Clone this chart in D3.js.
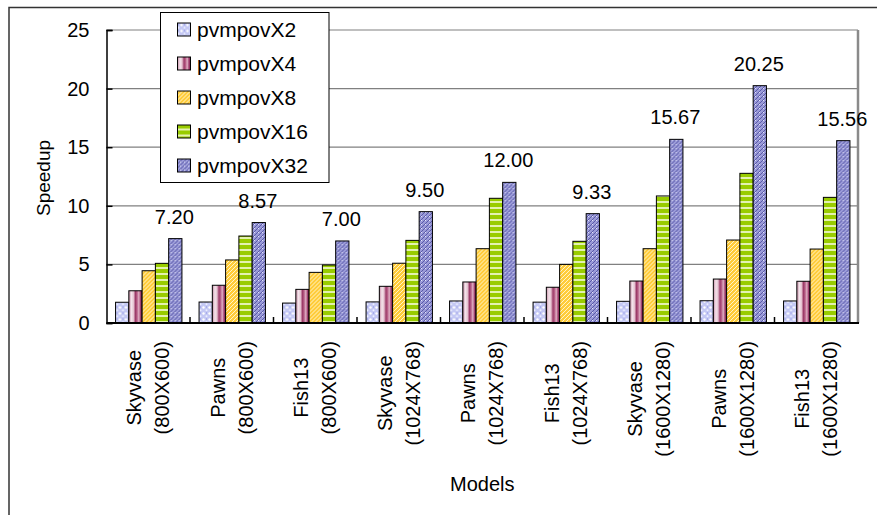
<!DOCTYPE html>
<html>
<head>
<meta charset="utf-8">
<script src="https://cdn.jsdelivr.net/npm/d3@7"></script>
<style>
  html, body { margin: 0; padding: 0; background: #fff; }
  svg { display: block; font-family: Arial, "Liberation Sans", sans-serif; }
</style>
</head>
<body>
<svg id="chart" width="877" height="515"></svg>
<script>
// Speedup of pvmpov at different processor counts, per model and resolution
const categories = [
  ["Skyvase", "(800X600)"],
  ["Pawns", "(800X600)"],
  ["Fish13", "(800X600)"],
  ["Skyvase", "(1024X768)"],
  ["Pawns", "(1024X768)"],
  ["Fish13", "(1024X768)"],
  ["Skyvase", "(1600X1280)"],
  ["Pawns", "(1600X1280)"],
  ["Fish13", "(1600X1280)"]
];
const seriesNames = ["pvmpovX2", "pvmpovX4", "pvmpovX8", "pvmpovX16", "pvmpovX32"];
const x2Values  = [1.77, 1.79, 1.70, 1.80, 1.88, 1.78, 1.85, 1.90, 1.88];
const x4Values  = [2.75, 3.22, 2.87, 3.13, 3.50, 3.05, 3.58, 3.75, 3.56];
const x8Values  = [4.46, 5.38, 4.32, 5.10, 6.34, 5.00, 6.34, 7.08, 6.31];
const x16Values = [5.09, 7.42, 4.95, 7.05, 10.64, 6.97, 10.84, 12.77, 10.72];
const x32Values = [7.20, 8.57, 7.00, 9.50, 12.00, 9.33, 15.67, 20.25, 15.56];
const yTicks = [0, 5, 10, 15, 20, 25];

const seriesValues = [x2Values, x4Values, x8Values, x16Values, x32Values];
const catKeys = categories.map(c => c.join(" "));
const rows = catKeys.map((k, i) => ({ key: k, lines: categories[i], values: seriesValues.map(s => s[i]) }));

const svg = d3.select("#chart");
const defs = svg.append("defs");

// ---- fills ----
// X2: pale periwinkle with white speckles
const p2 = defs.append("pattern").attr("id", "fillX2").attr("patternUnits", "userSpaceOnUse")
  .attr("width", 6).attr("height", 6);
p2.append("rect").attr("width", 6).attr("height", 6).attr("fill", "#c4c8f4");
p2.append("circle").attr("cx", 1.5).attr("cy", 1.5).attr("r", 1.2).attr("fill", "#ffffff");
p2.append("circle").attr("cx", 4.5).attr("cy", 4.2).attr("r", 1.0).attr("fill", "#eef0ff");
p2.append("rect").attr("x", 4).attr("y", 0.5).attr("width", 1).attr("height", 1).attr("fill", "#8a90e0");

// X4: maroon vertical stripes
const g4 = defs.append("linearGradient").attr("id", "fillX4").attr("x1", 0).attr("x2", 1).attr("y1", 0).attr("y2", 0);
[[0, "#c98fa8"], [0.2, "#f3e3ea"], [0.35, "#e6c4d2"], [0.5, "#9c3a68"], [0.62, "#b86088"],
 [0.75, "#e0b0c4"], [0.88, "#a04070"], [1, "#7a1e4a"]].forEach(([o, c]) =>
  g4.append("stop").attr("offset", o).attr("stop-color", c));

// X8: yellow with fine white diagonal hatch
const p8 = defs.append("pattern").attr("id", "fillX8").attr("patternUnits", "userSpaceOnUse")
  .attr("width", 4).attr("height", 4);
p8.append("rect").attr("width", 4).attr("height", 4).attr("fill", "#ffcc3a");
p8.append("path").attr("d", "M-1,1 L1,-1 M0,4 L4,0 M3,5 L5,3").attr("stroke", "#fff4c8").attr("stroke-width", 1);

// X16: green with light horizontal stripes
const p16 = defs.append("pattern").attr("id", "fillX16").attr("patternUnits", "userSpaceOnUse")
  .attr("width", 6).attr("height", 6);
p16.append("rect").attr("width", 6).attr("height", 6).attr("fill", "#99cc00");
p16.append("rect").attr("y", 3).attr("width", 6).attr("height", 2).attr("fill", "#e4f2b0");

// X32: blue-violet crosshatch
const p32 = defs.append("pattern").attr("id", "fillX32").attr("patternUnits", "userSpaceOnUse")
  .attr("width", 4).attr("height", 4);
p32.append("rect").attr("width", 4).attr("height", 4).attr("fill", "#9a9ad8");
p32.append("path").attr("d", "M-1,1 L1,-1 M0,4 L4,0 M3,5 L5,3").attr("stroke", "#5a5aa8").attr("stroke-width", 1);
p32.append("rect").attr("x", 0).attr("y", 0).attr("width", 1).attr("height", 1).attr("fill", "#e4e4f8");

const fills = ["url(#fillX2)", "url(#fillX4)", "url(#fillX8)", "url(#fillX16)", "url(#fillX32)"];

// ---- outer frame ----
svg.append("path").attr("d", "M9,515 V7.5 H877").attr("fill", "none")
  .attr("stroke", "#333").attr("stroke-width", 1.5);

// ---- scales ----
const plot = { left: 106.5, right: 858, top: 30, bottom: 323 };
const x0 = d3.scaleBand().domain(catKeys).range([plot.left, plot.right]).paddingInner(0).paddingOuter(0);
const bw = x0.bandwidth();
const gap = bw * 0.205;
const x1 = d3.scaleBand().domain(seriesNames).range([gap / 2 + 0.5, bw - gap / 2 + 0.5]).padding(0);
const y = d3.scaleLinear().domain([0, 25]).range([plot.bottom, plot.top]);

// gridlines
svg.append("g").selectAll("line").data(yTicks.filter(t => t > 0)).join("line")
  .attr("x1", plot.left).attr("x2", plot.right)
  .attr("y1", d => y(d)).attr("y2", d => y(d))
  .attr("stroke", "#808080").attr("stroke-width", 1.2);
// right edge of plot area
svg.append("line").attr("x1", plot.right).attr("x2", plot.right).attr("y1", plot.top).attr("y2", plot.bottom)
  .attr("stroke", "#8a8a8a").attr("stroke-width", 2.5);

// bars
const groups = svg.append("g").selectAll("g").data(rows).join("g")
  .attr("transform", d => `translate(${x0(d.key)},0)`);
groups.selectAll("rect").data(d => d.values.map((v, i) => ({ s: seriesNames[i], i, v }))).join("rect")
  .attr("x", d => x1(d.s))
  .attr("width", x1.bandwidth())
  .attr("y", d => y(d.v))
  .attr("height", d => y(0) - y(d.v))
  .attr("fill", d => fills[d.i])
  .attr("stroke", "#000").attr("stroke-width", 1);

// value labels above the X32 bars
svg.append("g").selectAll("text").data(rows).join("text")
  .attr("x", d => x0(d.key) + x1("pvmpovX32") + x1.bandwidth() / 2 - 1)
  .attr("y", d => y(d.values[4]) - 15)
  .attr("text-anchor", "middle")
  .attr("font-size", 20)
  .attr("fill", "#000")
  .text(d => d.values[4].toFixed(2));

// y axis
const yAxis = d3.axisLeft(y).tickValues(yTicks).tickSize(-6).tickPadding(17).tickFormat(d3.format("d"));
const yg = svg.append("g").attr("transform", `translate(${plot.left},0)`).call(yAxis);
yg.select(".domain").attr("stroke", "#000").attr("stroke-width", 1.5);
yg.selectAll(".tick line").attr("stroke", "#000").attr("stroke-width", 1.5);
yg.selectAll(".tick text").attr("font-size", 20).attr("fill", "#000").attr("font-family", "Arial, 'Liberation Sans', sans-serif");

// x axis line and inward category separators
svg.append("line").attr("x1", plot.left).attr("x2", plot.right + 1).attr("y1", plot.bottom).attr("y2", plot.bottom)
  .attr("stroke", "#000").attr("stroke-width", 2);
svg.append("g").selectAll("line").data(catKeys.slice(1)).join("line")
  .attr("x1", d => x0(d)).attr("x2", d => x0(d))
  .attr("y1", plot.bottom).attr("y2", plot.bottom - 6)
  .attr("stroke", "#000").attr("stroke-width", 1.5);

// category labels: two rotated lines, top-aligned, centered on each other
const catG = svg.append("g").selectAll("g").data(rows).join("g");
catG.each(function (d) {
  const g = d3.select(this);
  const cx = x0(d.key) + bw / 2;
  const texts = d.lines.map((line, i) => g.append("text")
    .attr("font-size", 20).attr("fill", "#000")
    .attr("text-anchor", "middle").attr("dy", "0.35em")
    .text(line)
    .datum({ i, cx }));
  const maxLen = d3.max(texts, t => t.node().getComputedTextLength());
  const cy = 341 + maxLen / 2;
  texts.forEach((t, i) => t.attr("transform", `translate(${cx + (i === 0 ? -14 : 14)},${cy}) rotate(-90)`));
});

// axis titles
svg.append("text").attr("x", (plot.left + plot.right) / 2).attr("y", 491)
  .attr("text-anchor", "middle").attr("font-size", 20).attr("fill", "#000").text("Models");
svg.append("text").attr("transform", `translate(43,178) rotate(-90)`)
  .attr("text-anchor", "middle").attr("dy", "0.35em").attr("font-size", 19).attr("fill", "#000").text("Speedup");

// legend
const lg = svg.append("g");
lg.append("rect").attr("x", 160.5).attr("y", 12.5).attr("width", 168.5).attr("height", 170)
  .attr("fill", "#fff").attr("stroke", "#000").attr("stroke-width", 1);
const items = lg.selectAll("g.item").data(seriesNames).join("g").attr("class", "item")
  .attr("transform", (d, i) => `translate(0,${29.5 + i * 34})`);
items.append("rect").attr("x", 177.5).attr("y", -6.5).attr("width", 13).attr("height", 13)
  .attr("fill", (d, i) => fills[i]).attr("stroke", "#000").attr("stroke-width", 1);
items.append("text").attr("x", 197).attr("dy", "0.35em").attr("font-size", 21).attr("fill", "#000").text(d => d);
</script>
</body>
</html>
